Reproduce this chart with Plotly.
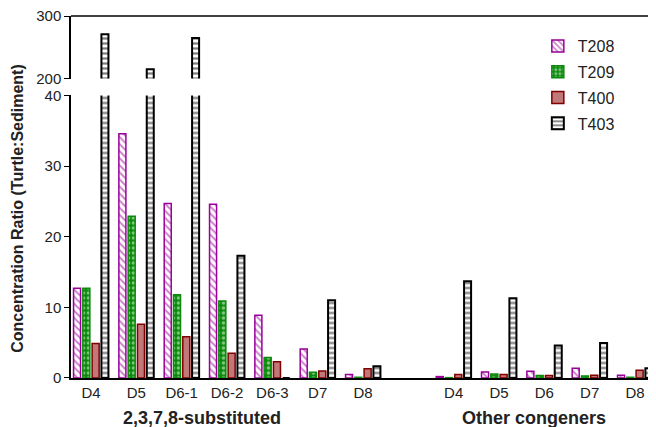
import plotly.graph_objects as go

group1 = ["D4", "D5", "D6-1", "D6-2", "D6-3", "D7", "D8"]
group2 = ["D4", "D5", "D6", "D7", "D8"]
group_titles = ["2,3,7,8-substituted", "Other congeners"]

t208 = [12.7, 34.6, 24.7, 24.6, 8.9, 4.1, 0.5, 0.2, 0.85, 0.95, 1.37, 0.4]
t209 = [12.7, 22.9, 11.8, 10.9, 2.9, 0.8, 0.1, 0.05, 0.55, 0.35, 0.3, 0.1]
t400 = [4.9, 7.6, 5.85, 3.5, 2.3, 1.0, 1.3, 0.5, 0.5, 0.35, 0.4, 1.1]
t403 = [271, 215, 265, 17.3, 0.0, 11.0, 1.65, 13.7, 11.3, 4.6, 4.95, 1.37]

# positions: group1 at 0..6, one empty slot, group2 at 8..12
xpos = list(range(len(group1))) + [len(group1) + 1 + i for i in range(len(group2))]
ticktext = group1 + group2

FONT = "Liberation Sans, Arial, sans-serif"
W = 0.155
offsets = [-0.385, -0.18, 0.025, 0.23]

styles = [
    dict(name="T208", vals=t208, color="white", line="#990099", lw=1.5,
         pattern=dict(shape="\\", fgcolor="#990099", bgcolor="white", size=5, solidity=0.4)),
    dict(name="T209", vals=t209, color="#0a8a0a", line="#0a8a0a", lw=1.5,
         pattern=dict(shape=".", fgcolor="white", bgcolor="#0a8a0a", size=5, solidity=0.4)),
    dict(name="T400", vals=t400, color="#c07878", line="#800000", lw=1.5, pattern=None),
    dict(name="T403", vals=t403, color="white", line="black", lw=2,
         pattern=dict(shape="-", fgcolor="black", bgcolor="white", size=5, solidity=0.45)),
]

fig = go.Figure()
for i, s in enumerate(styles):
    marker = dict(color=s["color"], line=dict(color=s["line"], width=s["lw"]))
    if s["pattern"]:
        marker["pattern"] = s["pattern"]
    fig.add_trace(go.Bar(x=xpos, y=s["vals"], name=s["name"], offset=offsets[i], width=W,
                         marker=marker, legendgroup=s["name"], xaxis="x", yaxis="y"))
    if s["name"] == "T403":
        fig.add_trace(go.Bar(x=xpos, y=s["vals"], name=s["name"], offset=offsets[i], width=W,
                             marker=marker, legendgroup=s["name"], showlegend=False,
                             xaxis="x", yaxis="y2"))

fig.update_layout(
    width=656, height=427,
    margin=dict(l=63, r=8, t=8, b=57, autoexpand=False),
    plot_bgcolor="white", paper_bgcolor="white",
    font=dict(family=FONT, size=15, color="#222"),
    showlegend=True,
    legend=dict(x=0.798, y=0.964, xanchor="left", yanchor="top", tracegroupgap=2,
                font=dict(size=16, family=FONT, color="#222"), bgcolor="rgba(0,0,0,0)"),
    xaxis=dict(range=[-0.441, 12.464], tickvals=xpos, ticktext=ticktext, showline=True,
               linecolor="black", linewidth=1.5, ticks="", showgrid=False, zeroline=False,
               tickfont=dict(size=15), anchor="y", automargin=False),
    yaxis=dict(domain=[0, 0.7804], range=[0, 40], tickvals=[0, 10, 20, 30, 40], showline=True,
               linecolor="black", linewidth=1.5, ticks="outside", ticklen=5, tickcolor="black",
               showgrid=False, zeroline=False, tickfont=dict(size=15), automargin=False,
               ticklabeloverflow="allow"),
    yaxis2=dict(domain=[0.8273, 1], range=[200, 300], tickvals=[200, 300], showline=True,
                linecolor="black", linewidth=1.5, ticks="outside", ticklen=5, tickcolor="black",
                showgrid=False, zeroline=False, anchor="x", tickfont=dict(size=15),
                automargin=False, ticklabeloverflow="allow"),
    shapes=[dict(type="line", xref="paper", yref="paper", x0=0, x1=1.02, y0=1, y1=1,
                 line=dict(color="black", width=1.5))],
    annotations=[
        dict(text="<b>Concentration Ratio (Turtle:Sediment)</b>", xref="paper", yref="paper",
             x=-0.0906, y=0.47, xanchor="center", yanchor="middle", textangle=-90,
             showarrow=False, font=dict(size=16, color="#222")),
        dict(text="<b>" + group_titles[0] + "</b>", xref="paper", yref="paper",
             x=(194 - 63) / 585, y=-0.11, xanchor="center", yanchor="middle",
             showarrow=False, font=dict(size=18, color="#222")),
        dict(text="<b>" + group_titles[1] + "</b>", xref="paper", yref="paper",
             x=(526 - 63) / 585, y=-0.11, xanchor="center", yanchor="middle",
             showarrow=False, font=dict(size=18, color="#222")),
    ],
)

fig.write_html("out.html")
